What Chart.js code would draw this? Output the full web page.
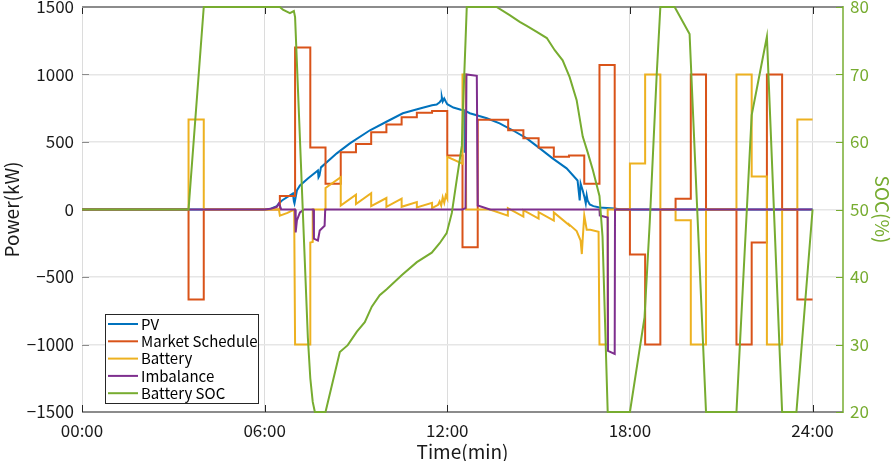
<!DOCTYPE html>
<html>
<head>
<meta charset="utf-8">
<script src="https://cdn.jsdelivr.net/npm/chart.js@4.4.1/dist/chart.umd.min.js"></script>
<style>
  html, body { margin: 0; padding: 0; background: #fff; }
  canvas { display: block; }
</style>
</head>
<body>
<canvas id="myChart" width="894" height="461"></canvas>
<script>
// time is in hours after 00:00
const xTicks = [0, 6, 12, 18, 24];

// market schedule, one value per half-hour block (held until next time)
const marketTime = [0, 3.5, 4, 6.5, 7, 7.5, 8, 8.5, 9, 9.5, 10, 10.5, 11, 11.5, 12, 12.5, 13, 14, 14.5, 15, 15.5, 16, 16.5, 17, 17.5, 18, 18.5, 19, 19.5, 20, 20.5, 21.5, 22, 22.5, 23, 23.5, 24];
const marketKW = [0, -667, 0, 100, 1200, 460, 190, 425, 485, 572, 630, 683, 716, 729, 400, -280, 665, 587, 527, 460, 390, 400, 191, 1070, 0, -333, -1000, 0, 80, 1000, 0, -1000, -245, 1000, 0, -667, -667];

const pvTime = [0, 6.0, 6.17, 6.4, 6.47, 6.57, 6.93, 6.96, 6.98, 7.06, 7.16, 7.42, 7.75, 7.77, 7.8, 7.85, 8.37, 8.8, 9.46, 10.0, 10.54, 11.1, 11.5, 11.65, 11.75, 11.8, 11.82, 11.85, 11.9, 11.95, 12.0, 12.2, 12.5, 12.56, 12.57, 12.59, 12.74, 13.3, 13.72, 14.15, 14.61, 15.04, 15.46, 15.92, 16.28, 16.35, 16.38, 16.42, 16.45, 16.51, 16.55, 16.58, 16.61, 16.68, 16.8, 17.0, 17.5, 17.7, 24];
const pvKW = [0, 0, 3, 25, 45, 67, 119, 60, 45, 141, 178, 230, 290, 238, 250, 312, 416, 490, 587, 650, 713, 748, 772, 778, 795, 810, 832, 800, 822, 800, 780, 755, 735, 735, 420, 730, 713, 676, 638, 587, 527, 453, 379, 305, 215, 67, 193, 163, 141, 89, 45, 104, 67, 37, 25, 15, 7, 0, 0];

const batTime = [0, 3.5, 3.5, 4, 4, 6.47, 6.5, 6.75, 6.97, 7, 7.5, 7.5, 7.58, 7.58, 8, 8, 8.5, 8.5, 9, 9, 9.5, 9.5, 10, 10, 10.5, 10.5, 11, 11, 11.5, 11.5, 11.7, 11.75, 11.8, 11.85, 11.9, 11.95, 12, 12, 12.5, 12.5, 12.6, 12.62, 13.4, 13.99, 13.99, 14.5, 14.5, 15, 15, 15.5, 15.5, 16, 16, 16.25, 16.38, 16.42, 16.45, 16.5, 16.58, 16.7, 16.97, 17, 17.27, 17.27, 18, 18, 18.5, 18.5, 19, 19, 19.5, 19.5, 20, 20, 20.5, 20.5, 21.5, 21.5, 22, 22, 22.5, 22.5, 23, 23, 23.5, 23.5, 24];
const batKW = [0, 0, 667, 667, 0, 0, -45, -25, 0, -1000, -1000, -245, -240, 0, 0, 160, 240, 30, 110, 40, 120, 25, 85, 20, 80, 20, 55, 15, 50, 10, 35, 60, 30, 90, 50, 104, 80, 390, 340, 1000, 1000, 0, 0, -45, 10, -52, -5, -67, -20, -82, -22, -115, -110, -160, -230, -330, -215, -45, -150, -150, -165, -1000, -1000, 0, 0, 340, 340, 1000, 1000, 0, 0, -80, -80, -1000, -1000, 0, 0, 1000, 1000, 245, 245, -1000, -1000, 0, 0, 667, 667];

const imbTime = [0, 6.0, 6.2, 6.4, 6.47, 6.55, 7.0, 7.02, 7.06, 7.16, 7.3, 7.6, 7.62, 7.75, 7.81, 7.97, 7.99, 12.5, 12.6, 12.63, 12.97, 13.0, 13.4, 17.0, 17.01, 17.27, 17.28, 17.5, 17.51, 24];
const imbKW = [0, 0, 5, 20, 45, 0, 0, -170, -80, -22, 0, 0, -215, -230, -156, -120, 0, 0, 10, 1000, 990, 30, 0, 0, -45, -60, -1047, -1070, 0, 0];

const socTime = [0, 3.5, 4, 6.5, 6.6, 6.83, 6.96, 7.0, 7.42, 7.5, 7.58, 7.65, 8.0, 8.47, 8.73, 9.03, 9.29, 9.52, 9.78, 10.01, 10.51, 11.0, 11.49, 11.75, 11.98, 12.15, 12.31, 12.48, 12.51, 12.6, 12.64, 13.62, 14.05, 14.38, 14.61, 14.94, 15.27, 15.53, 15.79, 16.02, 16.25, 16.45, 16.61, 16.78, 17.0, 17.1, 17.27, 18.0, 18.48, 18.65, 18.88, 19.0, 19.47, 19.96, 20.5, 21.5, 22.0, 22.5, 23.0, 23.47, 24];
const socPct = [50, 50, 80, 80, 79.6, 79.1, 79.4, 78.5, 31, 25, 21.5, 20, 20, 28.9, 29.9, 31.9, 33.3, 35.6, 37.3, 38.2, 40.3, 42.2, 43.6, 45, 46.5, 49.5, 54.4, 59.5, 64.3, 75, 80, 80, 78.8, 77.8, 77.2, 76.3, 75.4, 73.6, 72.1, 69.6, 66.2, 60.8, 58.5, 55.9, 52, 46, 20, 20, 34, 48, 70, 80, 80, 76, 20, 20, 64, 75.6, 20, 20, 50];

const FONT = "'Noto Sans CJK JP', 'Noto Sans', sans-serif";
const GREEN = '#77AC30';
const INK = '#1a1a1a';

function pts(xs, ys) {
  return xs.map((x, i) => ({ x: x, y: ys[i] }));
}

function line(ctx, x1, y1, x2, y2) {
  ctx.beginPath();
  ctx.moveTo(x1, y1);
  ctx.lineTo(x2, y2);
  ctx.stroke();
}

// keep the plot box fixed: no extra room for half labels
function noPad(s) {
  s.paddingTop = 0;
  s.paddingBottom = 0;
  s.paddingLeft = 0;
  s.paddingRight = 0;
}

const frame = {
  id: 'frame',
  beforeDatasetsDraw(chart) {
    const { ctx, chartArea: a, scales } = chart;
    ctx.save();
    ctx.lineWidth = 2;
    ctx.strokeStyle = '#8c8c8c';
    line(ctx, a.left, a.top, a.right, a.top);
    line(ctx, a.left, a.bottom, a.right, a.bottom);
    ctx.lineWidth = 1;
    ctx.strokeStyle = '#262626';
    xTicks.forEach(v => {
      const x = Math.round(scales.x.getPixelForValue(v)) + 0.5;
      line(ctx, x, a.bottom, x, a.bottom - 7);
      line(ctx, x, a.top, x, a.top + 7);
    });
    ctx.strokeStyle = '#8c8c8c';
    scales.y.ticks.forEach(t => {
      const y = Math.round(scales.y.getPixelForValue(t.value)) + 0.5;
      line(ctx, a.left, y, a.left + 7, y);
    });
    ctx.strokeStyle = GREEN;
    ctx.lineWidth = 1.5;
    line(ctx, a.right, a.top - 1, a.right, a.bottom + 1);
    ctx.lineWidth = 1;
    scales.y2.ticks.forEach(t => {
      const y = Math.round(scales.y2.getPixelForValue(t.value)) + 0.5;
      line(ctx, a.right, y, a.right - 7, y);
    });
    ctx.restore();
  },
  afterDraw(chart) {
    const { ctx } = chart;
    const left = 105, top = 314, w = 153, h = 89;
    ctx.save();
    ctx.fillStyle = '#fff';
    ctx.fillRect(left, top, w, h);
    ctx.strokeStyle = '#262626';
    ctx.lineWidth = 1;
    ctx.strokeRect(left + 0.5, top + 0.5, w, h);
    ctx.font = '15px ' + FONT;
    ctx.textBaseline = 'middle';
    chart.data.datasets.forEach((ds, i) => {
      const y = top + 10 + i * 17.3;
      ctx.strokeStyle = ds.borderColor;
      ctx.lineWidth = 2;
      line(ctx, left + 3, y, left + 33, y);
      ctx.fillStyle = '#000';
      ctx.fillText(ds.label, left + 36, y);
    });
    ctx.restore();
  }
};

const common = { pointRadius: 0, borderWidth: 2, tension: 0, clip: false, fill: false };

const config = {
  type: 'line',
  data: {
    datasets: [
      { ...common, label: 'PV', data: pts(pvTime, pvKW), borderColor: '#0072BD', yAxisID: 'y', order: 4 },
      { ...common, label: 'Market Schedule', data: pts(marketTime, marketKW), borderColor: '#D95319', yAxisID: 'y', stepped: 'before', order: 3 },
      { ...common, label: 'Battery', data: pts(batTime, batKW), borderColor: '#EDB120', yAxisID: 'y', order: 2 },
      { ...common, label: 'Imbalance', data: pts(imbTime, imbKW), borderColor: '#7E2F8E', yAxisID: 'y', order: 1 },
      { ...common, label: 'Battery SOC', data: pts(socTime, socPct), borderColor: GREEN, yAxisID: 'y2', order: 0 }
    ]
  },
  options: {
    responsive: false,
    animation: false,
    events: [],
    layout: { padding: { top: 7, left: 0, right: 0, bottom: 0 } },
    plugins: { legend: { display: false }, tooltip: { enabled: false } },
    scales: {
      x: {
        type: 'linear',
        min: 0,
        max: 25,
        afterBuildTicks: s => { s.ticks = xTicks.map(v => ({ value: v })); },
        afterFit: s => { s.height = 49; noPad(s); },
        grid: { color: '#dcdcdc', lineWidth: 1, drawTicks: false },
        border: { display: false },
        ticks: {
          padding: 8,
          maxRotation: 0,
          color: INK,
          font: { family: FONT, size: 17 },
          callback: v => String(v).padStart(2, '0') + ':00'
        },
        title: {
          display: true,
          text: 'Time(min)',
          color: INK,
          padding: 0,
          font: { family: FONT, size: 19, lineHeight: 1 }
        }
      },
      y: {
        type: 'linear',
        position: 'left',
        min: -1500,
        max: 1500,
        afterFit: s => { s.width = 82; noPad(s); },
        grid: { color: '#e6e6e6', lineWidth: 1.5, drawTicks: false },
        border: { display: false },
        ticks: {
          stepSize: 500,
          padding: 8,
          color: INK,
          font: { family: FONT, size: 17 },
          callback: v => (v < 0 ? '\u2212' : '') + Math.abs(v)
        },
        title: {
          display: true,
          text: 'Power(kW)',
          color: INK,
          padding: 0,
          font: { family: FONT, size: 19, lineHeight: 1.2 }
        }
      },
      y2: {
        type: 'linear',
        position: 'right',
        min: 20,
        max: 80,
        afterFit: s => { s.width = 51; noPad(s); },
        grid: { display: false, drawTicks: false },
        border: { display: false },
        ticks: {
          stepSize: 10,
          padding: 7,
          color: GREEN,
          font: { family: FONT, size: 17 }
        },
        title: {
          display: true,
          text: 'SOC(%)',
          color: GREEN,
          padding: 0,
          font: { family: FONT, size: 19, lineHeight: 1.2 }
        }
      }
    }
  },
  plugins: [frame]
};

new Chart(document.getElementById('myChart'), config);
</script>
</body>
</html>
